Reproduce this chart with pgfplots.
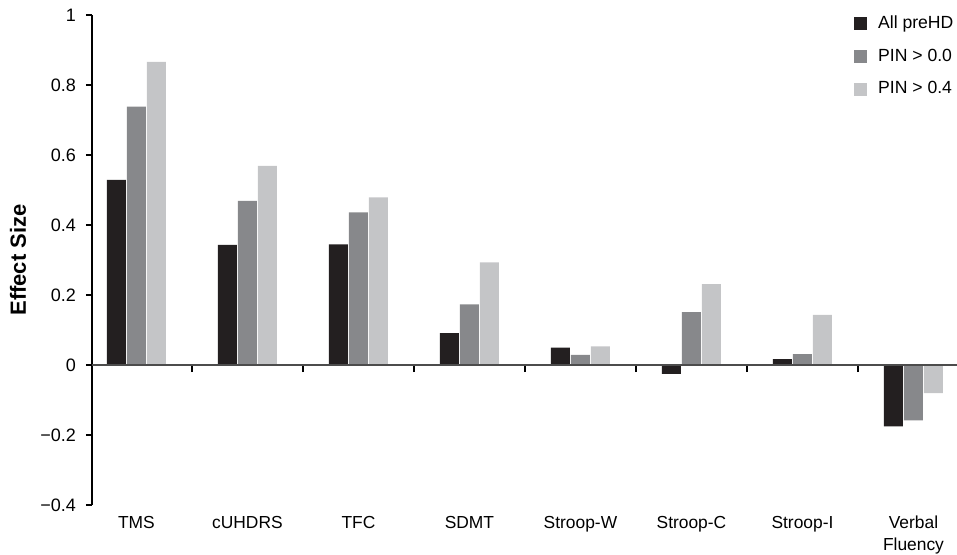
\documentclass[border=0pt]{standalone}
\usepackage{fontspec}
\setmainfont{Liberation Sans}
\usepackage{pgfplots}
\pgfplotsset{compat=1.18}
\definecolor{cA}{HTML}{231F20}
\definecolor{cB}{HTML}{87888B}
\definecolor{cC}{HTML}{C4C5C7}
\begin{document}
\begin{tikzpicture}
\begin{axis}[
  scale only axis, width=432.5pt, height=245pt,
  xmin=-0.4, xmax=7.392, ymin=-0.4, ymax=1,
  axis y line=left, axis x line=bottom,
  x axis line style={draw=none},
  y axis line style={-, line width=0.75pt, black},
  ytick={-0.4,-0.2,0,0.2,0.4,0.6,0.8,1},
  yticklabels={−0.4,−0.2,0,0.2,0.4,0.6,0.8,1},
  xtick={0,1,2,3,4,5,6,7},
  xticklabels={TMS,cUHDRS,TFC,SDMT,Stroop-W,Stroop-C,Stroop-I,Verbal\\Fluency},
  x tick label style={align=center, font=\fontsize{8.7}{11}\selectfont, yshift=1pt},
  y tick label style={font=\fontsize{9}{10}\selectfont, xshift=-1.5pt},
  major x tick style={draw=none},
  ytick style={line width=0.75pt, black},
  tick align=outside, major tick length=3pt,
  ylabel={Effect Size},
  ylabel style={font=\fontsize{11}{13}\selectfont\bfseries, at={(axis description cs:-0.0855,0.5)}, anchor=center},
  ybar, bar width=9.5pt,
  legend style={at={(axis description cs:0.8806,1.008)}, anchor=north west, draw=none, fill=none,
    font=\fontsize{8.8}{10}\selectfont, row sep=4.75pt, inner sep=0pt},
  legend cell align=left,
  legend image code/.code={\fill[#1] (0pt,-3.25pt) rectangle (6.5pt,3.25pt); \path (10pt,0pt);},
]
\addplot[fill=cA, draw=none, bar shift=-10pt] coordinates {(0,0.529) (1,0.343) (2,0.345) (3,0.091) (4,0.050) (5,-0.025) (6,0.017) (7,-0.175)};
\addplot[fill=cB, draw=none, bar shift=0pt] coordinates {(0,0.738) (1,0.469) (2,0.436) (3,0.173) (4,0.029) (5,0.151) (6,0.031) (7,-0.158)};
\addplot[fill=cC, draw=none, bar shift=10pt] coordinates {(0,0.866) (1,0.569) (2,0.479) (3,0.293) (4,0.053) (5,0.231) (6,0.143) (7,-0.080)};
\legend{All preHD, PIN > 0.0, PIN > 0.4}
\end{axis}
\begin{axis}[
  scale only axis, width=432.5pt, height=245pt,
  xmin=-0.4, xmax=7.392, ymin=-0.4, ymax=1,
  axis x line=middle, axis y line=none,
  x axis line style={-, line width=0.75pt, black!70},
  xtick={0.5,1.5,2.5,3.5,4.5,5.5,6.5}, xticklabels={},
  xtick style={line width=0.75pt, black},
  tick align=outside, major tick length=3.5pt,
]
\end{axis}
\pgfresetboundingbox
\path[use as bounding box] ([xshift=-46pt,yshift=-24.5pt]current axis.south west) rectangle ([yshift=7.5pt]current axis.north east);
\end{tikzpicture}
\end{document}
